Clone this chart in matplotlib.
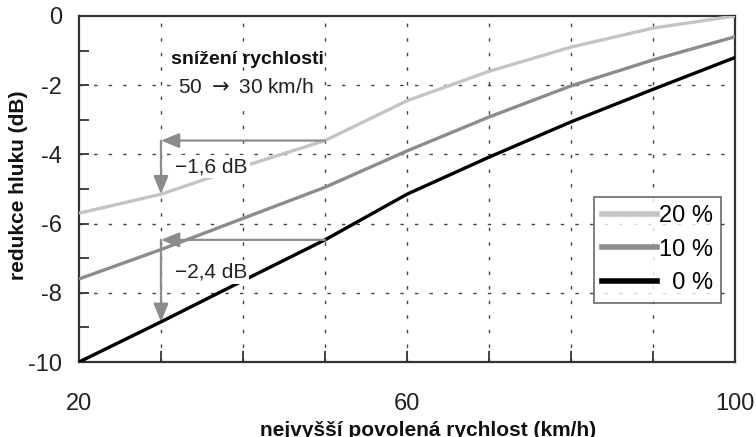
import matplotlib
matplotlib.use("Agg")
import matplotlib.pyplot as plt
from matplotlib.lines import Line2D
from matplotlib.ticker import MultipleLocator, FuncFormatter

plt.rcParams['font.family'] = ['Liberation Sans', 'DejaVu Sans']

speed = [20, 30, 40, 50, 60, 70, 80, 90, 100]
red_20 = [-5.7, -5.15, -4.35, -3.6, -2.45, -1.6, -0.9, -0.35, 0.0]
red_10 = [-7.6, -6.75, -5.85, -4.95, -3.9, -2.92, -2.02, -1.27, -0.6]
red_0 = [-10.0, -8.84, -7.65, -6.47, -5.15, -4.08, -3.06, -2.12, -1.2]
series_labels = ["20 %", "10 %", "  0 %"]
series_colors = ["#c4c4c4", "#8c8c8c", "#000000"]
x_label_ticks = [20, 60, 100]

fig = plt.figure(figsize=(7.56, 4.37), dpi=100)
ax = fig.add_axes([0.1045, 0.1716, 0.8677, 0.7918])

for vals, c in zip([red_20, red_10, red_0], series_colors):
    ax.plot(speed, vals, color=c, lw=2.4, solid_capstyle='butt', zorder=3)

ax.set_xlim(20, 100)
ax.set_ylim(-10, 0)
ax.xaxis.set_major_locator(MultipleLocator(10))
ax.yaxis.set_major_locator(MultipleLocator(2))
ax.yaxis.set_minor_locator(MultipleLocator(1))
ax.xaxis.set_major_formatter(FuncFormatter(lambda v, p: f"{int(round(v))}" if int(round(v)) in x_label_ticks else ""))
ax.yaxis.set_major_formatter(FuncFormatter(lambda v, p: f"{int(round(v))}"))
ax.tick_params(axis='both', which='both', direction='in', color='#333333', width=1.3)
ax.tick_params(axis='x', which='major', length=8, pad=22, labelsize=17, labelcolor='#222222')
ax.tick_params(axis='y', which='major', length=7, pad=12, labelsize=17, labelcolor='#222222')
ax.tick_params(axis='y', which='minor', length=7)
for s in ax.spines.values():
    s.set_color('#333333')
    s.set_linewidth(1.6)

# dotted grid (skip gridlines that coincide with the frame)
for gx in speed[1:-1]:
    ax.axvline(gx, color='#444444', lw=1.0, dashes=(2.5, 8), zorder=1)
for gy in [-2, -4, -6, -8]:
    ax.axhline(gy, color='#444444', lw=1.0, dashes=(2.5, 8), zorder=1)

ax.set_xlabel("nejvyšší povolená rychlost (km/h)", fontsize=15, fontweight='bold', color='#111111')
ax.xaxis.set_label_coords(0.532, -0.17)
ax.set_ylabel("redukce hluku (dB)", fontsize=15, fontweight='bold', color='#111111')
ax.yaxis.set_label_coords(-0.078, 0.512)

# arrows showing reduction for speed change 50 -> 30 km/h
i50 = speed.index(50)
i30 = speed.index(30)
arrow_c = '#8c8c8c'
for vals in [red_20, red_0]:
    y50 = vals[i50]
    y30 = vals[i30]
    ax.annotate("", xy=(speed[i30], y50), xytext=(speed[i50], y50),
                arrowprops=dict(arrowstyle='-|>,head_length=1.1,head_width=0.45', color=arrow_c, lw=1.6,
                                shrinkA=0, shrinkB=0), zorder=4)
    ax.annotate("", xy=(speed[i30], y30), xytext=(speed[i30], y50),
                arrowprops=dict(arrowstyle='-|>,head_length=1.1,head_width=0.45', color=arrow_c, lw=1.6,
                                shrinkA=0, shrinkB=0), zorder=4)

ax.text(31.2, -1.27, "snížení rychlosti", fontsize=14, fontweight='bold', color='#111111',
        va='center', ha='left', zorder=5)
ax.text(32.1, -2.08, "50 $\\rightarrow$ 30 km/h", fontsize=15, color='#222222', va='center', ha='left',
        zorder=5, bbox=dict(facecolor='white', edgecolor='none', pad=3))
ax.text(31.7, -4.36, "−1,6 dB", fontsize=15, color='#222222', va='center', ha='left', zorder=5,
        bbox=dict(facecolor='white', edgecolor='none', pad=1.5))
ax.text(31.7, -7.4, "−2,4 dB", fontsize=15, color='#222222', va='center', ha='left', zorder=5,
        bbox=dict(facecolor='white', edgecolor='none', pad=1.5))

handles = [Line2D([0], [0], color=c, lw=4) for c in series_colors]
leg = ax.legend(handles, series_labels, loc='upper left', bbox_to_anchor=(0.785, 0.478),
                fontsize=17, frameon=True, fancybox=False, handlelength=2.3, handletextpad=0.1,
                labelspacing=0.5, borderpad=0.35, borderaxespad=0)
leg.get_frame().set_edgecolor('#444444')
leg.get_frame().set_linewidth(1.2)
leg.set_zorder(6)

fig.savefig("out.png", dpi=100)
